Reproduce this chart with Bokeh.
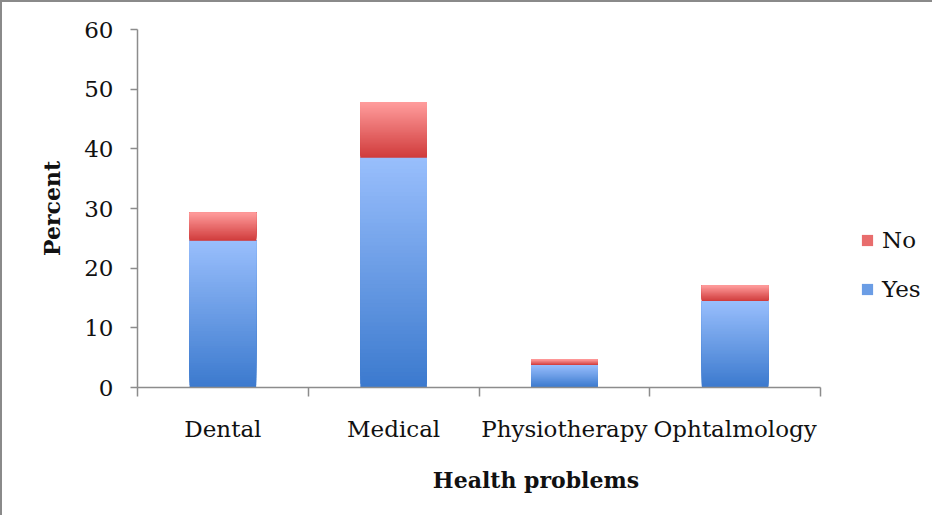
import numpy as np
from bokeh.plotting import figure
from bokeh.models import ColumnDataSource, FixedTicker, Legend, LegendItem, Range1d
from bokeh.embed import file_html
from bokeh.resources import INLINE

# ---- data ----
categories = ["Dental", "Medical", "Physiotherapy", "Ophtalmology"]
yes = [24.6, 38.5, 3.8, 14.5]
no = [4.7, 9.3, 0.9, 2.6]
y_ticks = [0, 10, 20, 30, 40, 50, 60]

# ---- style ----
YES_DARK, YES_LIGHT = (60, 122, 206), (152, 190, 252)
NO_DARK, NO_LIGHT = (208, 60, 60), (255, 156, 156)
FONT = "DejaVu Serif"
N = 60
FRAME_LEFT, FIG_W = 135, 932
CAT_PX = 170.75  # pixel width of one category slot


def lerp(c1, c2, t):
    return "#%02x%02x%02x" % tuple(int(round(a + (b - a) * t)) for a, b in zip(c1, c2))


def gradient_source(bases, values, dark, light):
    # each slice spans from its own bottom up to the segment top; later slices
    # are drawn over earlier ones, giving a seamless vertical gradient
    xs, bottoms, tops, colors = [], [], [], []
    for i, (b, v) in enumerate(zip(bases, values)):
        for k in range(N):
            xs.append(i + 0.5)
            bottoms.append(b + v * k / N)
            tops.append(b + v)
            colors.append(lerp(dark, light, k / (N - 1)))
    return ColumnDataSource(dict(x=xs, bottom=bottoms, top=tops, color=colors))


x_end = (FIG_W - FRAME_LEFT) / CAT_PX
p = figure(width=FIG_W, height=515, output_backend="svg", toolbar_location=None,
           x_range=Range1d(0, x_end), y_range=Range1d(0, 60),
           min_border_left=FRAME_LEFT, min_border_right=0, min_border_top=27, min_border_bottom=130)
p.styles = {"border-top": "2px solid #8a8a8a", "border-left": "2px solid #8a8a8a"}
p.outline_line_color = None
p.xgrid.grid_line_color = None
p.ygrid.grid_line_color = None

src_yes = gradient_source([0] * len(yes), yes, YES_DARK, YES_LIGHT)
src_no = gradient_source(yes, no, NO_DARK, NO_LIGHT)
r_yes = p.vbar(x="x", bottom="bottom", top="top", width=0.39, source=src_yes,
               fill_color="color", line_color=None)
r_no = p.vbar(x="x", bottom="bottom", top="top", width=0.39, source=src_no,
              fill_color="color", line_color=None)

# y axis
ya = p.yaxis[0]
ya.ticker = FixedTicker(ticks=y_ticks)
ya.axis_line_color = "#8c8c8c"
ya.axis_line_width = 1.5
ya.major_tick_line_color = "#8c8c8c"
ya.major_tick_line_width = 1.5
ya.major_tick_in = 0
ya.major_tick_out = 7
ya.minor_tick_line_color = None
ya.major_label_standoff = 17
ya.major_label_text_font = FONT
ya.major_label_text_font_size = "23px"
ya.major_label_text_color = "#111111"
ya.axis_label = "Percent"
ya.axis_label_text_font = FONT
ya.axis_label_text_font_style = "bold"
ya.axis_label_text_font_size = "22px"
ya.axis_label_text_color = "#111111"
ya.axis_label_standoff = 16

# x axis
xa = p.xaxis[0]
xa.bounds = (0, len(categories))
xa.ticker = FixedTicker(ticks=[i + 0.5 for i in range(len(categories))],
                        minor_ticks=list(range(len(categories) + 1)))
xa.major_label_overrides = {i + 0.5: c for i, c in enumerate(categories)}
xa.axis_line_color = "#8c8c8c"
xa.axis_line_width = 1.5
xa.major_tick_line_color = None
xa.major_tick_in = 0
xa.major_tick_out = 0
xa.minor_tick_line_color = "#8c8c8c"
xa.minor_tick_line_width = 1.5
xa.minor_tick_in = 0
xa.minor_tick_out = 9
xa.major_label_standoff = 19
xa.major_label_text_font = FONT
xa.major_label_text_font_size = "23px"
xa.major_label_text_color = "#111111"
xa.axis_label = "Health problems"
xa.axis_label_text_font = FONT
xa.axis_label_text_font_style = "bold"
xa.axis_label_text_font_size = "22px"
xa.axis_label_text_color = "#111111"
xa.axis_label_standoff = 22

legend = Legend(items=[LegendItem(label="No", renderers=[r_no], index=N // 2),
                       LegendItem(label="Yes", renderers=[r_yes], index=N // 2)],
                location=(723, 85), orientation="vertical",
                glyph_width=14, glyph_height=14, label_height=20, spacing=23,
                label_standoff=8, padding=0, margin=0,
                border_line_color=None, background_fill_alpha=0,
                label_text_font=FONT, label_text_font_size="23px", label_text_color="#111111")
p.add_layout(legend)

open("out.html", "w").write(file_html(p, INLINE))
